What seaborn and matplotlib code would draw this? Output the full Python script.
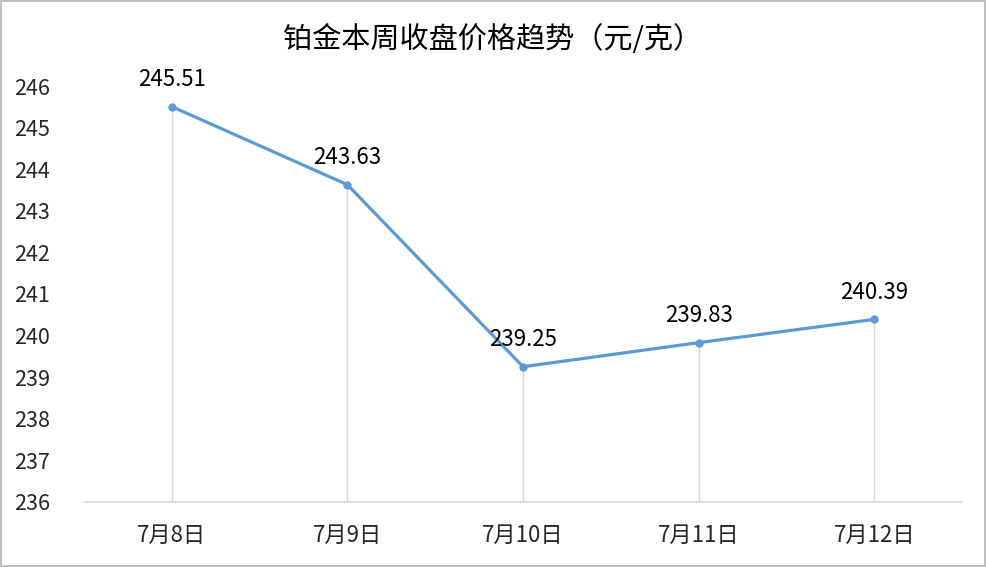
import seaborn as sns
import pandas as pd
from matplotlib import pyplot as plt

dates = ["7月8日", "7月9日", "7月10日", "7月11日", "7月12日"]
prices = [245.51, 243.63, 239.25, 239.83, 240.39]
y_ticks = [236, 237, 238, 239, 240, 241, 242, 243, 244, 245, 246]

df = pd.DataFrame({"date": dates, "price": prices})
df["pos"] = range(len(df))

sns.set_style("white")
plt.rcParams['font.family'] = ['Noto Sans CJK SC', 'DejaVu Sans']

fig = plt.figure(figsize=(9.86, 5.67), dpi=100)
ax = fig.add_axes([0.085, 0.115, 0.891, 0.733])

line_color = "#5B9BD5"
grey = "#D9D9D9"

# drop lines from each point to the axis floor
ax.vlines(df["pos"], 236, df["price"], color=grey, linewidth=1, zorder=1)

sns.lineplot(data=df, x="pos", y="price", color=line_color, linewidth=2.3,
             marker="o", markersize=6, markeredgewidth=0, ax=ax, zorder=3)

for x, y in zip(df["pos"], df["price"]):
    ax.annotate(f"{y:.2f}", (x, y), xytext=(0, 11), textcoords="offset points",
                ha="center", va="bottom", fontsize=16, color="#000000")

ax.set_xlim(-0.5, len(dates) - 0.5)
ax.set_ylim(236, 246)
ax.set_xticks(df["pos"])
ax.set_xticklabels(dates, fontsize=16)
ax.set_yticks(y_ticks)
ax.set_yticklabels([str(t) for t in y_ticks], fontsize=15.5)
ax.tick_params(axis="x", length=0, pad=16)
ax.tick_params(axis="y", length=0, pad=50)
for lbl in ax.get_yticklabels():
    lbl.set_horizontalalignment("left")
ax.set_xlabel("")
ax.set_ylabel("")

for s in ["left", "right", "top"]:
    ax.spines[s].set_visible(False)
ax.spines["bottom"].set_color(grey)
ax.spines["bottom"].set_linewidth(1.2)

fig.text(0.5, 0.93, "铂金本周收盘价格趋势（元/克）", ha="center", va="center",
         fontsize=21, color="#000000")

fig.patch.set_edgecolor("#BFBFBF")
fig.patch.set_linewidth(1.5)
fig.savefig("out.png", dpi=100, edgecolor=fig.get_edgecolor(), facecolor="white")
